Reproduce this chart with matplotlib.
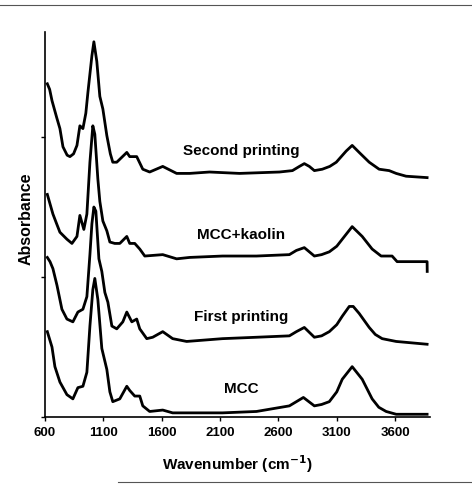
import matplotlib
matplotlib.use("Agg")
import matplotlib.pyplot as plt
from matplotlib.lines import Line2D

plt.rcParams["font.family"] = ["Liberation Sans", "DejaVu Sans"]
plt.rcParams["font.weight"] = "bold"

# spectra (wavenumber cm^-1, offset absorbance)
second_wn = [620, 640, 660, 700, 728, 754, 790, 814, 845, 874, 899, 925, 950, 968, 1002, 1019,
             1044, 1070, 1096, 1130, 1160, 1181, 1215, 1301, 1326, 1386, 1438, 1497,
             1609, 1728, 1839, 2010, 2267, 2609, 2720, 2780, 2822, 2865, 2908, 2976,
             3040, 3096, 3181, 3232, 3292, 3378, 3463, 3549, 3609, 3694, 3874]
second_ab = [2.38, 2.34, 2.26, 2.14, 2.06, 1.93, 1.87, 1.86, 1.88, 1.94, 2.08, 2.06, 2.17, 2.32,
             2.58, 2.68, 2.54, 2.29, 2.20, 2.01, 1.88, 1.82, 1.82, 1.89, 1.86, 1.86,
             1.77, 1.75, 1.79, 1.74, 1.74, 1.75, 1.74, 1.75, 1.76, 1.79, 1.81, 1.79,
             1.76, 1.77, 1.79, 1.82, 1.90, 1.94, 1.89, 1.82, 1.77, 1.76, 1.74, 1.72, 1.71]

kaolin_wn = [620, 668, 700, 728, 788, 831, 874, 899, 933, 959, 985, 1010, 1027, 1053,
             1070, 1096, 1130, 1156, 1198, 1241, 1301, 1326, 1369, 1412, 1455, 1609,
             1728, 1839, 2121, 2412, 2694, 2754, 2822, 2908, 2970, 3036, 3100, 3147,
             3232, 3318, 3403, 3480, 3574, 3617, 3874, 3875]
kaolin_ab = [1.59, 1.45, 1.38, 1.32, 1.27, 1.24, 1.29, 1.44, 1.34, 1.45, 1.82, 2.08, 2.02,
             1.70, 1.54, 1.40, 1.33, 1.25, 1.24, 1.24, 1.29, 1.24, 1.24, 1.20, 1.15,
             1.16, 1.13, 1.14, 1.15, 1.15, 1.16, 1.19, 1.21, 1.15, 1.16, 1.18, 1.22,
             1.27, 1.36, 1.29, 1.20, 1.15, 1.15, 1.11, 1.11, 1.04]

first_wn = [620, 643, 668, 703, 745, 788, 839, 882, 925, 959, 985, 1002, 1019, 1036,
            1062, 1087, 1113, 1139, 1173, 1215, 1267, 1301, 1344, 1386, 1412, 1472,
            1523, 1609, 1694, 1814, 2121, 2412, 2694, 2754, 2822, 2908, 2970, 3036,
            3100, 3147, 3207, 3241, 3292, 3378, 3430, 3489, 3609, 3874]
first_ab = [1.14, 1.11, 1.06, 0.94, 0.77, 0.70, 0.68, 0.75, 0.77, 0.86, 1.16, 1.38, 1.50,
            1.47, 1.13, 1.04, 0.89, 0.82, 0.65, 0.63, 0.68, 0.75, 0.68, 0.70, 0.63,
            0.56, 0.57, 0.61, 0.56, 0.54, 0.56, 0.57, 0.58, 0.61, 0.64, 0.57, 0.58,
            0.61, 0.66, 0.72, 0.79, 0.79, 0.74, 0.64, 0.59, 0.56, 0.54, 0.52]

mcc_wn = [620, 660, 685, 728, 788, 839, 882, 925, 959, 985, 1010, 1027, 1053, 1087,
          1130, 1156, 1181, 1241, 1301, 1326, 1369, 1412, 1438, 1497, 1609, 1694,
          1925, 2121, 2412, 2694, 2754, 2814, 2908, 2970, 3036, 3100, 3147, 3232,
          3318, 3403, 3460, 3523, 3609, 3874]
mcc_ab = [0.61, 0.50, 0.36, 0.25, 0.16, 0.13, 0.21, 0.22, 0.32, 0.65, 0.91, 0.99, 0.84,
          0.49, 0.34, 0.18, 0.11, 0.13, 0.22, 0.19, 0.15, 0.15, 0.08, 0.04, 0.05,
          0.03, 0.03, 0.03, 0.04, 0.08, 0.11, 0.14, 0.08, 0.09, 0.11, 0.18, 0.27,
          0.36, 0.27, 0.13, 0.07, 0.04, 0.02, 0.02]

labels = ["Second printing", "MCC+kaolin", "First printing", "MCC"]
label_y = [1.91, 1.31, 0.72, 0.21]
label_x = 2284
xticks = [600, 1100, 1600, 2100, 2600, 3100, 3600]
yticks = [0, 1, 2]

fig = plt.figure(figsize=(4.72, 4.85), dpi=100)
ax = fig.add_axes([0.0953, 0.138, 0.816, 0.794])

for wn, ab in [(second_wn, second_ab), (kaolin_wn, kaolin_ab),
               (first_wn, first_ab), (mcc_wn, mcc_ab)]:
    ax.plot(wn, ab, color="black", lw=2.0)

for txt, yy in zip(labels, label_y):
    ax.text(label_x, yy, txt, ha="center", va="center", fontsize=11, fontweight="bold")

ax.set_xlim(600, 3900)
ax.set_ylim(0, 2.75)
ax.set_xticks(xticks)
ax.set_xticklabels([str(t) for t in xticks], fontsize=9.5, fontweight="bold")
ax.set_yticks(yticks)
ax.set_yticklabels([])
ax.tick_params(direction="out", length=3, width=1)
ax.set_xlabel("Wavenumber (cm$^{\\mathbf{-1}}$)", fontsize=11, fontweight="bold", labelpad=10)
ax.set_ylabel("Absorbance", fontsize=11.5, fontweight="bold")
ax.yaxis.set_label_coords(-0.03, 0.517)
ax.spines["top"].set_visible(False)
ax.spines["right"].set_visible(False)
for s in ("left", "bottom"):
    ax.spines[s].set_linewidth(1.2)

# scan border lines
fig.add_artist(Line2D([0.0, 1.0], [0.988, 0.988], color="#555555", lw=0.8))
fig.add_artist(Line2D([0.25, 1.0], [0.004, 0.004], color="#555555", lw=0.8))

fig.savefig("out.png", dpi=100)
